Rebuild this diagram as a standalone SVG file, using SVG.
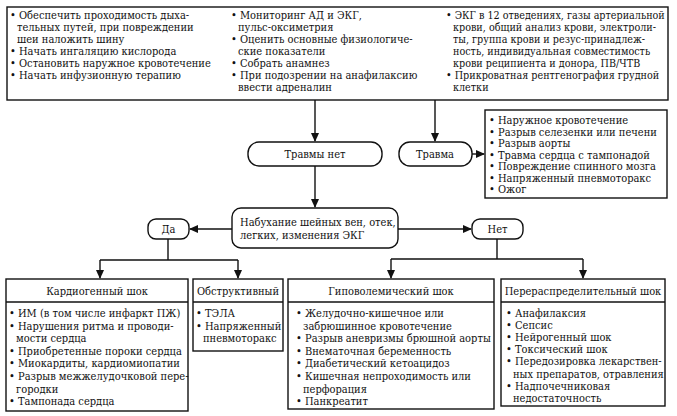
<svg xmlns="http://www.w3.org/2000/svg" width="677" height="416" viewBox="0 0 677 416">
<style>
.box{fill:#fff;stroke:#111;stroke-width:1.4}
.ln{fill:none;stroke:#111;stroke-width:1.4}
text{font-family:"DejaVu Serif Condensed","DejaVu Serif",serif;font-size:11px;fill:#111}
.c{text-anchor:middle}
.s{font-size:10.7px}
</style>
<defs>
<marker id="ah" markerUnits="userSpaceOnUse" markerWidth="9" markerHeight="8" refX="8" refY="4" orient="auto">
<path d="M0,0 L9,4 L0,8 z" fill="#111"/>
</marker>
</defs>
<rect width="677" height="416" fill="#fff"/>

<g id="connectors">
<path class="ln" d="M315,100 V141" marker-end="url(#ah)"/>
<path class="ln" d="M435,100 V141" marker-end="url(#ah)"/>
<path class="ln" d="M472,154 H484" marker-end="url(#ah)"/>
<path class="ln" d="M315,166 V207" marker-end="url(#ah)"/>
<path class="ln" d="M232,229 H190" marker-end="url(#ah)"/>
<path class="ln" d="M398,229 H471" marker-end="url(#ah)"/>
<path class="ln" d="M168,239 V260 M100,260 H238"/>
<path class="ln" d="M100,260 V278" marker-end="url(#ah)"/>
<path class="ln" d="M238,260 V278" marker-end="url(#ah)"/>
<path class="ln" d="M497,239 V259 M391,259 H583"/>
<path class="ln" d="M391,259 V278" marker-end="url(#ah)"/>
<path class="ln" d="M583,259 V278" marker-end="url(#ah)"/>
</g>

<g id="top">
<rect class="box" x="7" y="7" width="661" height="93"/>
<text x="10" y="19">• Обеспечить проходимость дыха-</text>
<text x="17" y="31">тельных путей, при повреждении</text>
<text x="17" y="43">шеи наложить шину</text>
<text x="10" y="55">• Начать ингаляцию кислорода</text>
<text x="10" y="67">• Остановить наружное кровотечение</text>
<text x="10" y="79">• Начать инфузионную терапию</text>
<text x="231" y="19">• Мониторинг АД и ЭКГ,</text>
<text x="238" y="31">пульс-оксиметрия</text>
<text x="231" y="43">• Оценить основные физиологиче-</text>
<text x="238" y="55">ские показатели</text>
<text x="231" y="67">• Собрать анамнез</text>
<text x="231" y="79">• При подозрении на анафилаксию</text>
<text x="238" y="91">ввести адреналин</text>
<text class="s" x="446" y="19">• ЭКГ в 12 отведениях, газы артериальной</text>
<text class="s" x="453" y="31">крови, общий анализ крови, электроли-</text>
<text class="s" x="453" y="43">ты, группа крови и резус-принадлеж-</text>
<text class="s" x="453" y="55">ность, индивидуальная совместимость</text>
<text class="s" x="453" y="67">крови реципиента и донора, ПВ/ЧТВ</text>
<text class="s" x="446" y="79">• Прикроватная рентгенография грудной</text>
<text class="s" x="453" y="91">клетки</text>
</g>

<g id="no-trauma">
<rect class="box" x="248" y="142" width="134" height="24" rx="11"/>
<text class="c" x="315" y="158">Травмы нет</text>
</g>

<g id="trauma">
<rect class="box" x="399" y="142" width="73" height="24" rx="11"/>
<text class="c" x="435" y="158">Травма</text>
</g>

<g id="trauma-list">
<rect class="box" x="485" y="110" width="182" height="88"/>
<text x="489" y="124">• Наружное кровотечение</text>
<text x="489" y="135.5">• Разрыв селезенки или печени</text>
<text x="489" y="147">• Разрыв аорты</text>
<text x="489" y="158.5">• Травма сердца с тампонадой</text>
<text x="489" y="170">• Повреждение спинного мозга</text>
<text x="489" y="181.5">• Напряженный пневмоторакс</text>
<text x="489" y="193">• Ожог</text>
</g>

<g id="question">
<rect class="box" x="232" y="208" width="166" height="40" rx="9"/>
<text x="240" y="226">Набухание шейных вен, отек,</text>
<text x="240" y="239">легких, изменения ЭКГ</text>
</g>

<g id="yes">
<rect class="box" x="148" y="219" width="41" height="20" rx="8"/>
<text class="c" x="168.5" y="233">Да</text>
</g>

<g id="no">
<rect class="box" x="472" y="219" width="51" height="20" rx="8"/>
<text class="c" x="497.5" y="233">Нет</text>
</g>

<g id="cardiogenic">
<rect class="box" x="6" y="279" width="182" height="132"/>
<path class="ln" d="M6,302 H188"/>
<text class="c" x="97" y="295">Кардиогенный шок</text>
<text x="9" y="317">• ИМ (в том числе инфаркт ПЖ)</text>
<text x="9" y="329.6">• Нарушения ритма и проводи-</text>
<text x="16" y="342.2">мости сердца</text>
<text x="9" y="354.8">• Приобретенные пороки сердца</text>
<text x="9" y="367.4">• Миокардиты, кардиомиопатии</text>
<text x="9" y="380">• Разрыв межжелудочковой пере-</text>
<text x="16" y="392.6">городки</text>
<text x="9" y="405.2">• Тампонада сердца</text>
</g>

<g id="obstructive">
<rect class="box" x="193" y="279" width="90" height="72"/>
<path class="ln" d="M193,302 H283"/>
<text class="c" x="238" y="295">Обструктивный</text>
<text x="196" y="317">• ТЭЛА</text>
<text x="196" y="329.6">• Напряженный</text>
<text x="203" y="342.2">пневмоторакс</text>
</g>

<g id="hypovolemic">
<rect class="box" x="288" y="279" width="206" height="130"/>
<path class="ln" d="M288,302 H494"/>
<text class="c" x="391" y="295">Гиповолемический шок</text>
<text x="296" y="317">• Желудочно-кишечное или</text>
<text x="303" y="329.6">забрюшинное кровотечение</text>
<text x="296" y="342.2">• Разрыв аневризмы брюшной аорты</text>
<text x="296" y="354.8">• Внематочная беременность</text>
<text x="296" y="367.4">• Диабетический кетоацидоз</text>
<text x="296" y="380">• Кишечная непроходимость или</text>
<text x="303" y="392.6">перфорация</text>
<text x="296" y="405.2">• Панкреатит</text>
</g>

<g id="distributive">
<rect class="box" x="501" y="279" width="164" height="127"/>
<path class="ln" d="M501,302 H665"/>
<text class="c" x="583" y="295">Перераспределительный шок</text>
<text x="506" y="317">• Анафилаксия</text>
<text x="506" y="329.1">• Сепсис</text>
<text x="506" y="341.2">• Нейрогенный шок</text>
<text x="506" y="353.3">• Токсический шок</text>
<text x="506" y="365.4">• Передозировка лекарствен-</text>
<text x="513" y="377.5">ных препаратов, отравления</text>
<text x="506" y="389.6">• Надпочечниковая</text>
<text x="513" y="401.7">недостаточность</text>
</g>
</svg>
